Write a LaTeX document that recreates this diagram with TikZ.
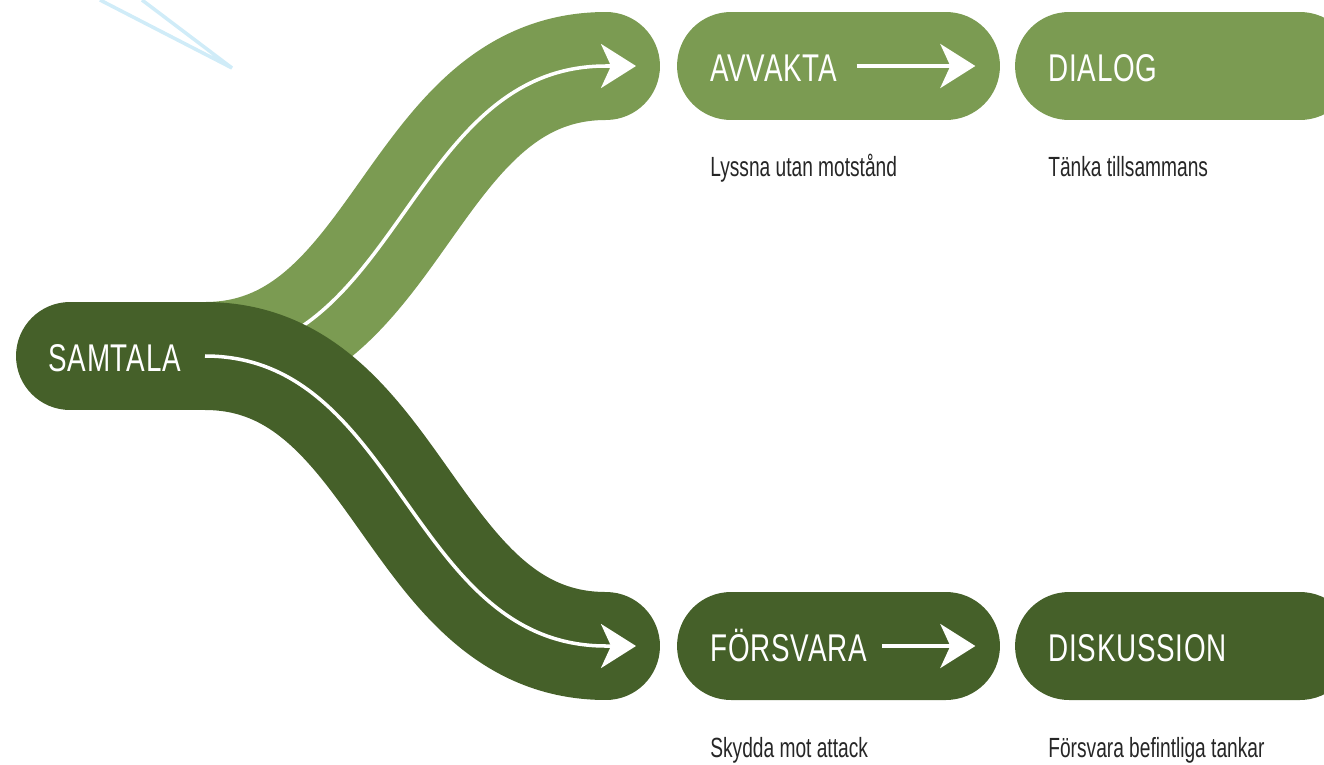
\documentclass[tikz,border=0pt]{standalone}
\usepackage{fontspec}
\setmainfont{Liberation Sans}[FakeStretch=0.72]
\newfontfamily\pillfont{Liberation Sans}[FakeStretch=0.72, LetterSpace=2]
\newfontfamily\capfont{Liberation Sans}[FakeStretch=0.69]
\usetikzlibrary{positioning,arrows.meta}
\definecolor{leafgreen}{RGB}{123,155,82}
\definecolor{mossgreen}{RGB}{69,96,41}
\definecolor{skyline}{RGB}{208,236,248}

\begin{document}
\begin{tikzpicture}[x=0.02cm, y=-0.02cm,
  band/.style={line width=2.16cm, line cap=round},
  pill/.style={rounded corners=1.08cm, minimum height=2.16cm,
               minimum width=#1, inner sep=0pt},
  pilltxt/.style={anchor=base west, text=white, inner sep=0pt,
                  font=\pillfont\fontsize{22}{26}\selectfont},
  flow/.style={white, line width=2pt,
               -{Stealth[length=0.7cm, width=0.88cm, inset=0.2cm]}},
  sub/.style={anchor=base west, text=black!85, inner sep=0pt,
              font=\capfont\fontsize{15.8}{19}\selectfont},
]
  \clip (0,0) rectangle (1324,764);
  % faint lines in the corner
  \coordinate (spark) at (232,68);
  \draw[skyline, line width=2pt] (100,0) -- (spark) -- (142,0);

  \coordinate (root) at (70,356);
  \coordinate (fork) at (205,356);
  \coordinate (upend) at (606,66);
  \coordinate (uptip) at (636,66);
  \coordinate (lowend) at (606,646);
  \coordinate (lowtip) at (636,646);

  % upper branch
  \draw[band, leafgreen] (fork) .. controls (400,356) and (410,66) .. (upend);
  \draw[flow] (fork) .. controls (400,356) and (410,66) .. (upend) -- (uptip);
  % lower branch
  \draw[band, mossgreen] (root) -- (fork)
    .. controls (400,356) and (410,646) .. (lowend);
  \node[pilltxt] (samtalaT) at (48,371) {SAMTALA};
  \draw[flow] (fork) .. controls (400,356) and (410,646) .. (lowend) -- (lowtip);

  % pills
  \foreach \n/\x/\y/\w/\col in {avvakta/838.5/66/6.46cm/leafgreen,
      dialog/1184.5/66/6.78cm/leafgreen,
      forsvara/838.5/646/6.46cm/mossgreen,
      diskussion/1184.5/646/6.78cm/mossgreen}{
    \node[pill=\w, fill=\col] (\n) at (\x,\y) {};
  }
  \node[pilltxt] (avvaktaT) at (710,81) {AVVAKTA};
  \node[pilltxt] (dialogT) at (1048,81) {DIALOG};
  \node[pilltxt] (forsvaraT) at (710,661) {FÖRSVARA};
  \node[pilltxt] (diskussionT) at (1048,661) {DISKUSSION};
  \draw[flow, shorten <=0.38cm, shorten >=0.5cm]
    (avvaktaT.east |- avvakta) -- (avvakta.east);
  \draw[flow, shorten <=0.3cm, shorten >=0.5cm]
    (forsvaraT.east |- forsvara) -- (forsvara.east);

  % captions
  \node[sub] (avvaktaS) at (710,176) {Lyssna utan motstånd};
  \node[sub] (dialogS) at (1048,176) {Tänka tillsammans};
  \node[sub] (forsvaraS) at (710,757) {Skydda mot attack};
  \node[sub] (diskussionS) at (1048,757) {Försvara befintliga tankar};
\end{tikzpicture}
\end{document}
